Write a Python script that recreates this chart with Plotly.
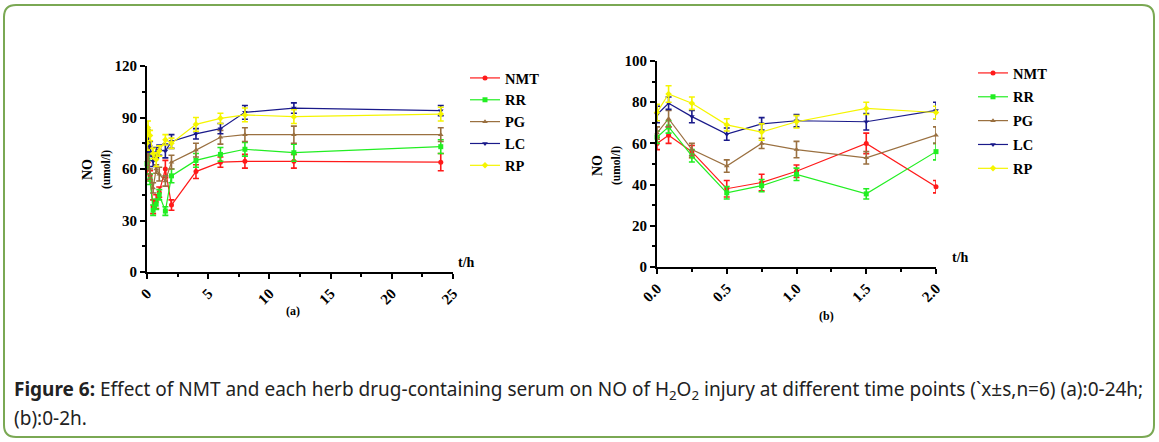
import plotly.graph_objects as go

# ---- data ----
t_hours = [0, 0.083, 0.25, 0.5, 0.75, 1, 1.5, 2, 4, 6, 8, 12, 24]
series_names = ["NMT", "RR", "PG", "LC", "RP"]
NMT = [60, 64, 56, 38, 41, 46.5, 60, 39, 58.5, 64, 64.5, 64.5, 64]
RR = [63, 68, 54, 36, 39.5, 45, 35.5, 56, 65, 68.5, 71.5, 69.5, 73]
PG = [65, 72, 57, 49, 60, 57, 53, 64, 71, 78.5, 80, 80, 80]
LC = [74, 79.5, 73, 64.5, 69.5, 71, 70.5, 76, 80.5, 83.5, 93, 95.5, 94]
RP = [75, 84, 79.5, 69, 65.5, 70.5, 77, 75, 86, 89.5, 91.5, 90.5, 92]
NMT_sd = [3, 4, 3, 4, 4, 3, 5, 3, 4, 3, 4, 4, 5]
RR_sd = [3, 3, 3, 3, 3, 3, 2.5, 4, 4, 4, 4, 5, 4]
PG_sd = [3, 4, 3, 3, 2.5, 4, 3, 4, 4, 4, 4, 5, 4]
LC_sd = [4, 3, 3, 3, 3, 3, 4, 4, 3, 3, 4, 3, 3]
RP_sd = [4, 4, 3, 3, 4, 3, 3, 3, 4, 3, 4, 4, 4]
n_short = 8  # points up to 2 h used in panel (b)

values = [NMT, RR, PG, LC, RP]
sds = [NMT_sd, RR_sd, PG_sd, LC_sd, RP_sd]
colors = ["#ff1a1a", "#22ee22", "#9a7040", "#1a1a8a", "#f5f500"]
symbols = ["circle", "square", "triangle-up", "triangle-down", "diamond"]

W, H = 1159, 442
def px(x):
    return x / W
def py(y):
    return 1 - y / H

fig = go.Figure()
for i, (name, v, sd, c, s) in enumerate(zip(series_names, values, sds, colors, symbols)):
    fig.add_trace(go.Scatter(
        x=t_hours, y=v, name=name, mode="lines+markers", legendgroup=f"a{i}",
        line=dict(color=c, width=1.2), marker=dict(color=c, symbol=s, size=5),
        error_y=dict(type="data", array=sd, color=c, thickness=1.6, width=3),
        xaxis="x", yaxis="y", legend="legend", cliponaxis=False))
for i, (name, v, sd, c, s) in enumerate(zip(series_names, values, sds, colors, symbols)):
    fig.add_trace(go.Scatter(
        x=t_hours[:n_short], y=v[:n_short], name=name, mode="lines+markers", legendgroup=f"b{i}",
        line=dict(color=c, width=1.2), marker=dict(color=c, symbol=s, size=5),
        error_y=dict(type="data", array=sd[:n_short], color=c, thickness=1.6, width=3),
        xaxis="x2", yaxis="y2", legend="legend2", cliponaxis=False))

tickfont = dict(family="Liberation Serif", size=15, color="black", weight="bold")
axcommon = dict(showline=True, linecolor="black", linewidth=2, ticks="outside",
                ticklen=5, tickwidth=1.5, tickcolor="black", showgrid=False,
                zeroline=False, tickfont=tickfont, automargin=False)
def minor(d):
    return dict(dtick=d, ticklen=3, tickwidth=1.5, tickcolor="black", ticks="outside")

legfont = dict(family="Liberation Serif", size=14.5, color="black", weight="bold")
fig.update_layout(
    width=W, height=H, margin=dict(l=0, r=0, t=0, b=0, autoexpand=False),
    paper_bgcolor="white", plot_bgcolor="white",
    xaxis=dict(domain=[px(147), px(453)], range=[0, 25], dtick=5, tickangle=-45,
               anchor="y", minor=minor(2.5), **axcommon),
    yaxis=dict(domain=[py(272), py(66)], range=[0, 120], dtick=30, anchor="x",
               minor=minor(15), **axcommon),
    xaxis2=dict(domain=[px(657), px(936)], range=[0, 2], dtick=0.5, tickangle=-45,
                tickformat=".1f", anchor="y2", minor=minor(0.25), **axcommon),
    yaxis2=dict(domain=[py(267), py(61)], range=[0, 100], dtick=20, anchor="x2",
                minor=minor(10), **axcommon),
    legend=dict(x=px(465), y=py(62), xanchor="left", yanchor="top", bgcolor="rgba(0,0,0,0)",
                font=legfont, tracegroupgap=0, itemwidth=30),
    legend2=dict(x=px(973), y=py(57), xanchor="left", yanchor="top", bgcolor="rgba(0,0,0,0)",
                 font=legfont, tracegroupgap=2, itemwidth=30),
)

ann_font = dict(family="Liberation Serif", size=14, color="black", weight="bold")
ytitle = "NO<br><span style='font-size:11.5px'>(umol/l)</span>"
th_font = dict(family="Liberation Serif", size=14, color="black", weight="bold")
lab_font = dict(family="Liberation Serif", size=12, color="black", weight="bold")
cap_font = dict(family="Noto Sans", size=19, color="#222222")
anns = [
    dict(x=px(97), y=py(170), text=ytitle, textangle=-90, font=ann_font),
    dict(x=px(606), y=py(166), text=ytitle, textangle=-90, font=ann_font),
    dict(x=px(466), y=py(262), text="t/h", font=th_font),
    dict(x=px(960), y=py(257), text="t/h", font=th_font),
    dict(x=px(293), y=py(311), text="(a)", font=lab_font),
    dict(x=px(826), y=py(316), text="(b)", font=lab_font),
    dict(x=px(12), y=py(390), xanchor="left", align="left",
         text="<b>Figure 6:</b> Effect of NMT and each herb drug-containing serum on NO of H<sub>2</sub>O<sub>2</sub> injury at different time points (`x±s,n=6) (a):0-24h;",
         font=cap_font),
    dict(x=px(12), y=py(418), xanchor="left", align="left", text="(b):0-2h.",
         font=cap_font),
]
for a in anns:
    a.setdefault("xanchor", "center")
    a.update(xref="paper", yref="paper", yanchor="middle", showarrow=False)
fig.update_layout(annotations=anns)

# rounded frame
x0, x1, y0, y1, r = px(4), px(1154), py(5), py(437), 12
rx, ry = r / W, r / H
path = (f"M {x0+rx},{y0} L {x1-rx},{y0} Q {x1},{y0} {x1},{y0-ry} "
        f"L {x1},{y1+ry} Q {x1},{y1} {x1-rx},{y1} L {x0+rx},{y1} "
        f"Q {x0},{y1} {x0},{y1+ry} L {x0},{y0-ry} Q {x0},{y0} {x0+rx},{y0} Z")
fig.add_shape(type="path", path=path, xref="paper", yref="paper",
              line=dict(color="#7aa853", width=2))

fig.write_html("out.html", config={"displayModeBar": False},
               post_script="document.body.style.margin='0';document.body.style.overflow='hidden';")
